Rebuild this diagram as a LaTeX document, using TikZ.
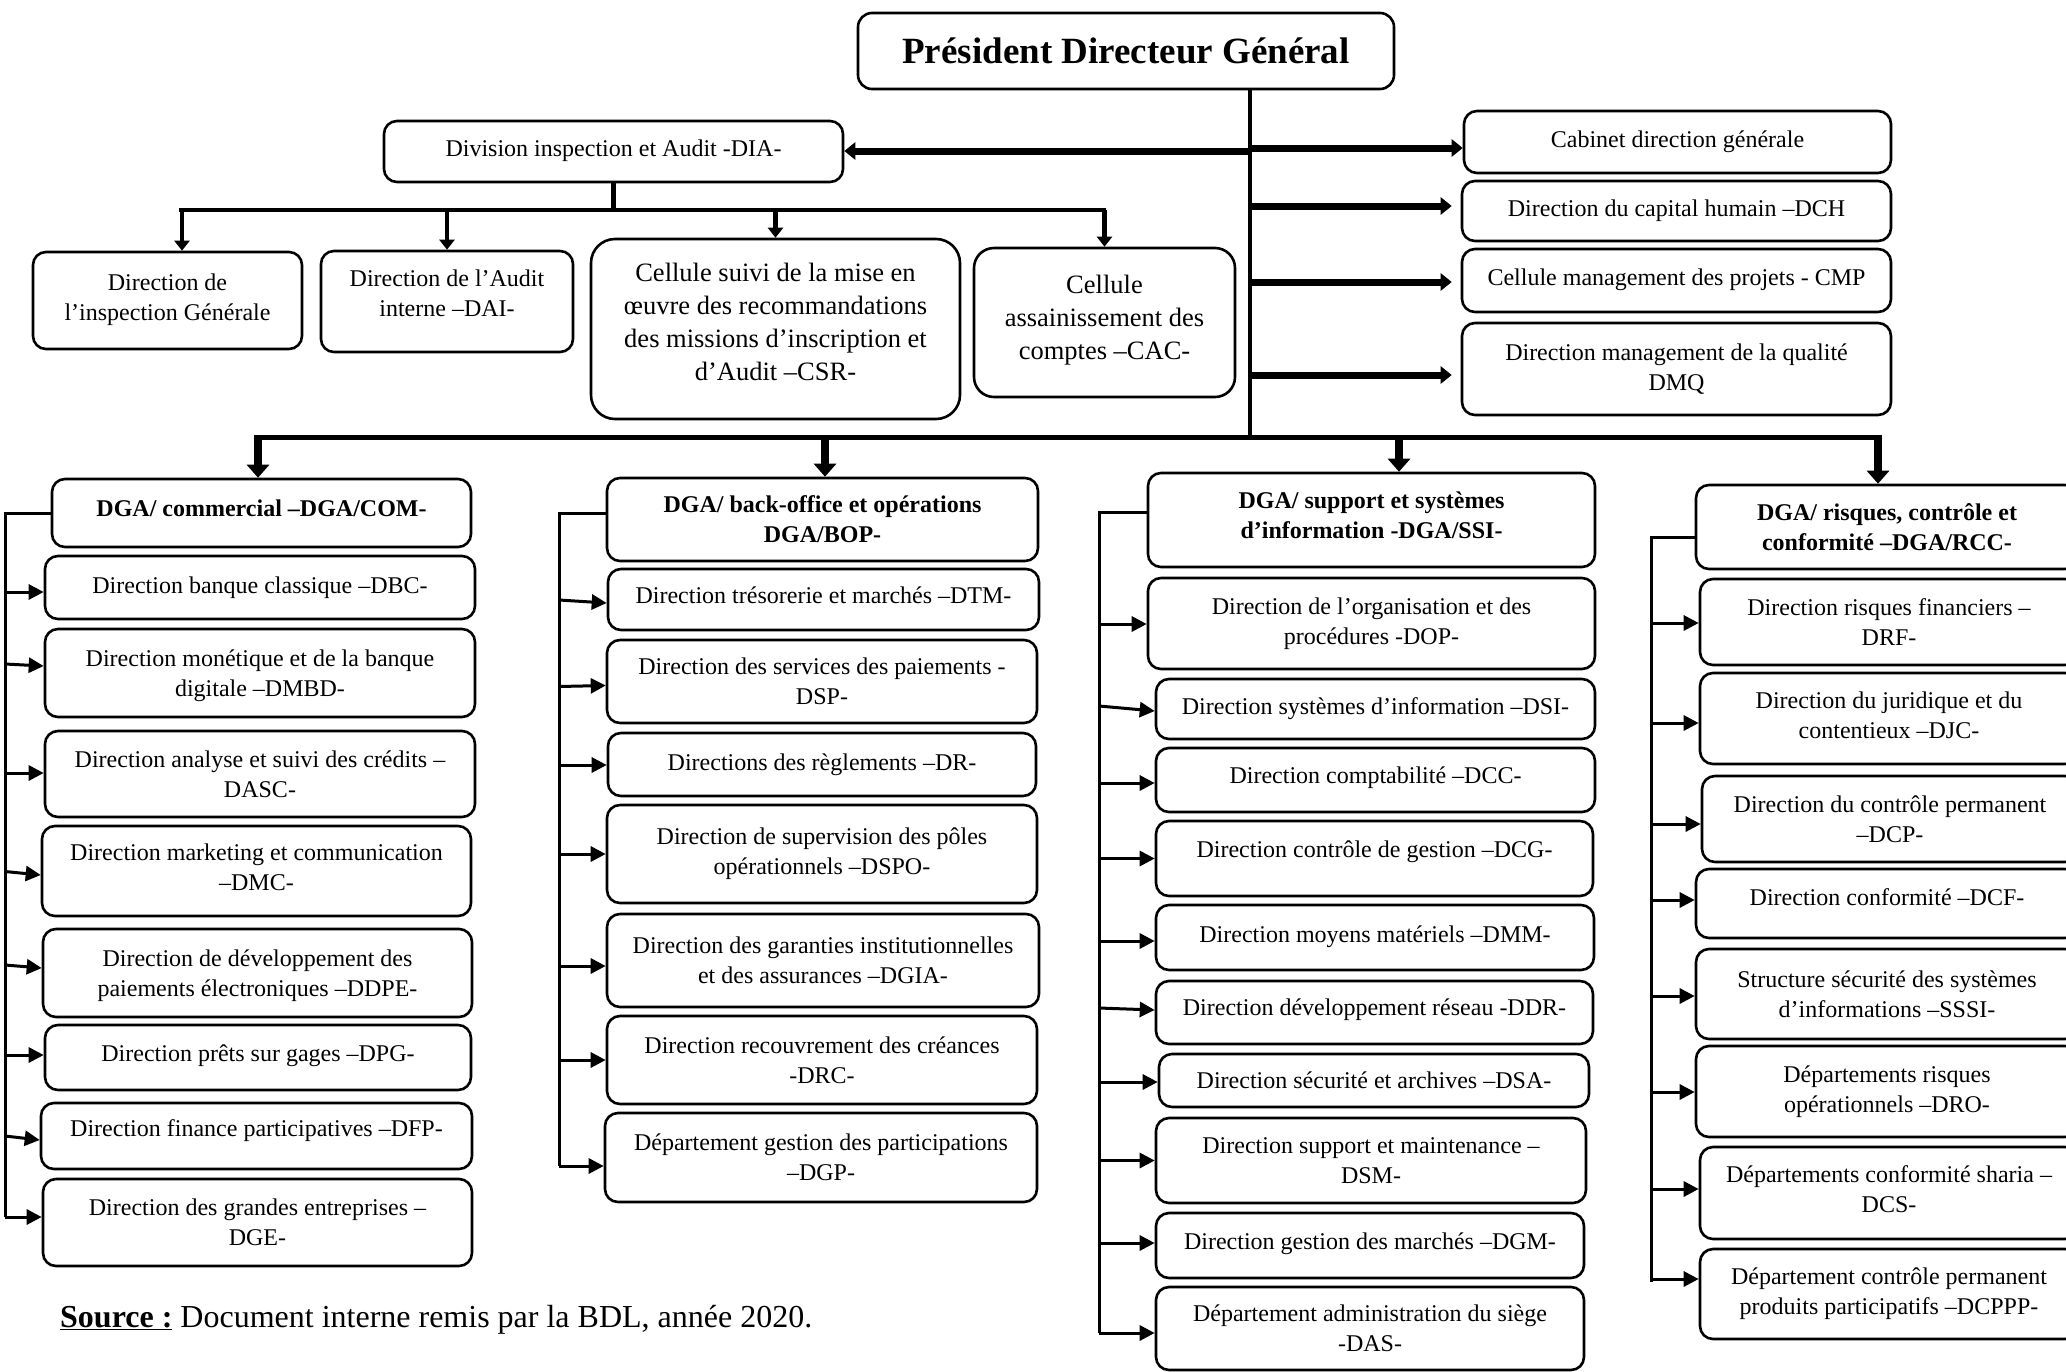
\documentclass[tikz,border=0pt]{standalone}
\usepackage{fontspec}
\setmainfont{Liberation Serif}
\usetikzlibrary{arrows.meta,calc}

% one unit = 1pt, y grows downwards
\tikzset{
  x=1pt, y=-1pt,
  obox/.style={draw, line width=2.6pt, rounded corners=13pt, align=center,
    inner sep=2pt, font=\fontsize{24}{30}\selectfont},
  hbox/.style={obox, font=\bfseries\fontsize{24}{30}\selectfont},
  bigbox/.style={obox, rounded corners=24pt, font=\fontsize{26.5}{33}\selectfont},
  topbox/.style={obox, rounded corners=14pt, font=\bfseries\fontsize{37}{44}\selectfont},
  brline/.style={line width=3pt},
  brarrow/.style={line width=3pt, -{Triangle[length=15pt,width=15pt]}},
  fatarrow/.style={line width=7pt, -{Triangle[length=11pt,width=17pt]}},
  downarrow/.style={line width=8pt, -{Triangle[length=13pt,width=22pt]}},
  trunkline/.style={line width=4pt},
  busline/.style={line width=5pt},
  subline/.style={line width=4.5pt},
  subarrow/.style={line width=4.5pt, -{Triangle[length=10pt,width=15pt]}},
}

% \obx[style]{name}{x1}{y1}{x2}{y2}{text}
\newcommand\obx[7][]{\node[obox,#1,minimum width={#5-#3},minimum height={#6-#4}]
  (#2) at ({(#3+#5)/2},{(#4+#6)/2}) {#7};}
% text drawn higher without changing the box
\newcommand\lift[2]{\raisebox{#1}[\height][\depth]{#2}}
\newcommand\liftm[2]{\raisebox{#1}[\height][\depth]{\begin{tabular}{@{}c@{}}#2\end{tabular}}}
% arrow from a bracket line to a box: bracket, box, start dy, end dy
\newcommand\feed[4]{\draw[brarrow] ($(#1 |- #2.west)+(0,#3)$) -- ($(#2.west)+(0,#4)$);}

\begin{document}
\begin{tikzpicture}
\useasboundingbox (0,0) rectangle (2066,1371);
\clip (0,0) rectangle (2066,1371);

% ---- head and its staff units
\obx[topbox]{PDG}{858}{13}{1394}{89}{Président Directeur Général}
\obx{DIA}{384}{121}{843}{182}{\lift{1pt}{Division inspection et Audit -DIA-}}
\obx{CAB}{1464}{111}{1891}{173}{Cabinet direction générale}
\obx{DCH}{1462}{181}{1891}{241}{Direction du capital humain –DCH}
\obx{CMP}{1462}{249}{1891}{312}{\lift{1pt}{Cellule management des projets - CMP}}
\obx{DMQ}{1462}{323}{1891}{415}{Direction management de la qualité\\DMQ}

\obx{DIG}{33}{252}{302}{349}{\liftm{1pt}{Direction de\\l’inspection Générale}}
\obx{DAI}{321}{251}{573}{352}{\liftm{6pt}{Direction de l’Audit\\interne –DAI-}}
\obx[bigbox]{CSR}{591}{239}{960}{419}{\liftm{5pt}{Cellule suivi de la mise en\\œuvre des recommandations\\des missions d’inscription et\\d’Audit –CSR-}}
\obx[bigbox,rounded corners=20pt]{CAC}{974}{248}{1235}{397}{\liftm{3pt}{Cellule\\assainissement des\\comptes –CAC-}}

% ---- DGA commercial
\obx[hbox]{COM}{52}{479}{471}{547}{\lift{5pt}{DGA/ commercial –DGA/COM-}}
\obx{DBC}{45}{556}{475}{619}{Direction banque classique –DBC-}
\obx{DMBD}{45}{629}{475}{717}{\liftm{-2pt}{Direction monétique et de la banque\\digitale –DMBD-}}
\obx{DASC}{45}{731}{475}{817}{Direction analyse et suivi des crédits –\\DASC-}
\obx{DMC}{42}{826}{471}{916}{\liftm{2pt}{Direction marketing et communication\\–DMC-}}
\obx{DDPE}{43}{929}{472}{1017}{\liftm{-2pt}{Direction de développement des\\paiements électroniques –DDPE-}}
\obx{DPG}{45}{1025}{471}{1090}{\lift{2pt}{Direction prêts sur gages –DPG-}}
\obx{DFP}{41}{1103}{472}{1169}{\lift{5pt}{Direction finance participatives –DFP-}}
\obx{DGE}{43}{1179}{472}{1266}{Direction des grandes entreprises –\\DGE-}

% ---- DGA back-office
\obx[hbox]{BOP}{607}{478}{1038}{561}{\liftm{-2pt}{DGA/ back-office et opérations\\DGA/BOP-}}
\obx{DTM}{608}{569}{1039}{630}{\lift{4pt}{Direction trésorerie et marchés –DTM-}}
\obx{DSP}{607}{640}{1037}{723}{\liftm{-2pt}{Direction des services des paiements -\\DSP-}}
\obx{DR}{608}{733}{1036}{796}{Directions des règlements –DR-}
\obx{DSPO}{607}{805}{1037}{903}{Direction de supervision des pôles\\opérationnels –DSPO-}
\obx{DGIA}{607}{914}{1039}{1007}{Direction des garanties institutionnelles\\et des assurances –DGIA-}
\obx{DRC}{607}{1016}{1037}{1104}{Direction recouvrement des créances\\-DRC-}
\obx{DGP}{605}{1113}{1037}{1202}{Département gestion des participations\\–DGP-}

% ---- DGA support and IT
\obx[hbox]{SSI}{1148}{473}{1595}{567}{\liftm{3pt}{DGA/ support et systèmes\\d’information -DGA/SSI-}}
\obx{DOP}{1148}{578}{1595}{669}{Direction de l’organisation et des\\procédures -DOP-}
\obx{DSI}{1156}{679}{1595}{739}{Direction systèmes d’information –DSI-}
\obx{DCC}{1156}{748}{1595}{812}{\lift{2pt}{Direction comptabilité –DCC-}}
\obx{DCG}{1156}{821}{1593}{896}{\lift{7pt}{Direction contrôle de gestion –DCG-}}
\obx{DMM}{1156}{905}{1594}{970}{\lift{1pt}{Direction moyens matériels –DMM-}}
\obx{DDR}{1156}{981}{1593}{1044}{\lift{3pt}{Direction développement réseau -DDR-}}
\obx{DSA}{1159}{1054}{1589}{1107}{Direction sécurité et archives –DSA-}
\obx{DSM}{1156}{1118}{1586}{1203}{\liftm{-2pt}{Direction support et maintenance –\\DSM-}}
\obx{DGM}{1156}{1213}{1584}{1278}{\lift{2pt}{Direction gestion des marchés –DGM-}}
\obx{DAS}{1156}{1287}{1584}{1370}{\liftm{-2pt}{Département administration du siège\\-DAS-}}

% ---- DGA risks and compliance
\obx[hbox]{RCC}{1696}{485}{2078}{569}{\liftm{-2pt}{DGA/ risques, contrôle et\\conformité –DGA/RCC-}}
\obx{DRF}{1700}{579}{2078}{665}{Direction risques financiers –\\DRF-}
\obx{DJC}{1700}{673}{2078}{764}{\liftm{1pt}{Direction du juridique et du\\contentieux –DJC-}}
\obx{DCP}{1702}{776}{2078}{862}{Direction du contrôle permanent\\–DCP-}
\obx{DCF}{1696}{869}{2078}{938}{\lift{6pt}{Direction conformité –DCF-}}
\obx{SSSI}{1696}{949}{2078}{1039}{Structure sécurité des systèmes\\d’informations –SSSI-}
\obx{DRO}{1696}{1046}{2078}{1137}{Départements risques\\opérationnels –DRO-}
\obx{DCS}{1700}{1147}{2078}{1239}{\liftm{2pt}{Départements conformité sharia –\\DCS-}}
\obx{DCPPP}{1700}{1249}{2078}{1339}{Département contrôle permanent\\produits participatifs –DCPPP-}

% ---- source line
\node[anchor=base west, inner sep=0pt, font=\fontsize{32}{38}\selectfont] (src) at (60,1327)
  {\underline{\textbf{Source :}} Document interne remis par la BDL, année 2020.};

% ---- trunk, staff arrows and main bus
\coordinate (tk) at (1250,437);
\coordinate (jL) at (1250,151);
\coordinate (jR) at (1250,148);
\coordinate (busL) at (254,437);
\coordinate (busR) at (1882,437);
\coordinate (b1) at (258,437);
\coordinate (b2) at (825,437);
\coordinate (b3) at (1399,437);
\coordinate (b4) at (1878,437);

\draw[trunkline] (PDG.south -| tk) -- (tk);
\draw[busline] (busL) -- (busR);
\draw[fatarrow] (jL) -- (jL -| DIA.east);
\draw[fatarrow] (jR) -- (jR -| CAB.west);
\draw[fatarrow, shorten >=9pt] ($(tk |- DCH.west)+(0,-5)$) -- ($(DCH.west)+(0,-5)$);
\draw[fatarrow, shorten >=9pt] ($(tk |- CMP.west)+(0,1.5)$) -- ($(CMP.west)+(0,1.5)$);
\draw[fatarrow, shorten >=9pt] ($(tk |- DMQ.west)+(0,6)$) -- ($(DMQ.west)+(0,6)$);

\draw[downarrow] (b1) -- (b1 |- COM.north);
\draw[downarrow] (b2) -- (b2 |- BOP.north);
\draw[downarrow] (b3) -- (b3 |- SSI.north);
\draw[downarrow] (b4) -- (b4 |- RCC.north);

% ---- inspection and audit branch
\coordinate (subL) at (179,210);
\coordinate (subR) at (1106,210);
\coordinate (subA) at (182,210);
\draw[subline] (DIA.south) -- (DIA.south |- subL);
\draw[subline] (subL) -- (subR);
\draw[subarrow] (subA) -- (subA |- DIG.north);
\draw[subarrow] (DAI.north |- subL) -- (DAI.north);
\draw[subarrow] (CSR.north |- subL) -- (CSR.north);
\draw[subarrow] (CAC.north |- subL) -- (CAC.north);

% ---- brackets of the four DGA
\coordinate (comB) at (5,1217);
\coordinate (bopB) at (559,1166);
\coordinate (ssiB) at (1099,1333);
\coordinate (rccB) at (1651,1282);

\draw[brline] (COM.west) -| (comB);
\feed{comB}{DBC}{4.5}{4.5}
\feed{comB}{DMBD}{-9}{-7}
\feed{comB}{DASC}{-1}{-1}
\feed{comB}{DMC}{0.5}{4}
\feed{comB}{DDPE}{-8}{-5}
\feed{comB}{DPG}{-2.5}{-2.5}
\feed{comB}{DFP}{0}{4}
\feed{comB}{DGE}{-5.5}{-5.5}

\draw[brline] ($(BOP.west)+(0,-6.5)$) -| (bopB);
\feed{bopB}{DTM}{0.5}{3.5}
\feed{bopB}{DSP}{5}{4}
\feed{bopB}{DR}{0.5}{0.5}
\feed{bopB}{DSPO}{0}{0}
\feed{bopB}{DGIA}{5.5}{5.5}
\feed{bopB}{DRC}{0}{0}
\feed{bopB}{DGP}{8.5}{8.5}

\draw[brline] ($(SSI.west)+(0,-8)$) -| (ssiB);
\feed{ssiB}{DOP}{0.5}{0.5}
\feed{ssiB}{DSI}{-3}{2}
\feed{ssiB}{DCC}{3}{3}
\feed{ssiB}{DCG}{0}{0}
\feed{ssiB}{DMM}{3.5}{3.5}
\feed{ssiB}{DDR}{-4.5}{-2.5}
\feed{ssiB}{DSA}{1.5}{1.5}
\feed{ssiB}{DSM}{0}{0}
\feed{ssiB}{DGM}{-2.5}{-2.5}
\feed{ssiB}{DAS}{4.5}{4.5}

\draw[brline] ($(RCC.west)+(0,10)$) -| (rccB);
\feed{rccB}{DRF}{1}{1}
\feed{rccB}{DJC}{4.5}{4.5}
\feed{rccB}{DCP}{5}{5}
\feed{rccB}{DCF}{-3.5}{-3.5}
\feed{rccB}{SSSI}{2}{2}
\feed{rccB}{DRO}{0.5}{0.5}
\feed{rccB}{DCS}{-4}{-4}
\feed{rccB}{DCPPP}{-15}{-15}
\end{tikzpicture}
\end{document}
